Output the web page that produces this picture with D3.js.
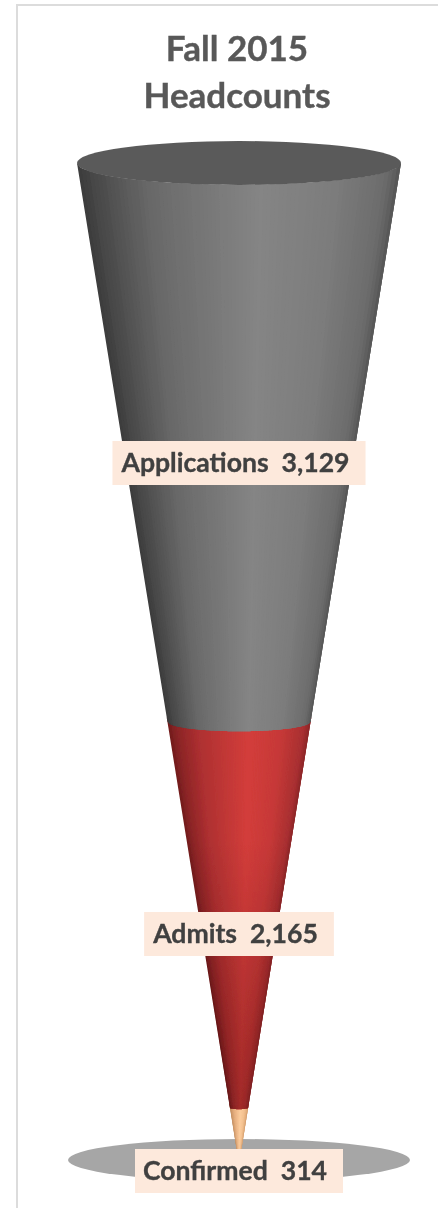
<!DOCTYPE html>
<html>
<head>
<meta charset="utf-8">
<script src="https://cdn.jsdelivr.net/npm/d3@7/dist/d3.min.js"></script>
<style>
html,body{margin:0;padding:0;background:#fff;overflow:hidden}
svg{display:block}
text{font-family:Lato,"Open Sans",sans-serif;font-weight:700;white-space:pre}
</style>
</head>
<body>
<svg id="c" width="438" height="1208"></svg>
<script>
const titleLines = ["Fall 2015", "Headcounts"];
const categories = ["Confirmed", "Admits", "Applications"];
const values = [314, 2165, 3129];
const valueLabels = ["314", "2,165", "3,129"];
const rampStops = [-1, -0.88, -0.57, -0.25, 0.135, 0.59, 0.91, 1];
const grayRamp = ["#3a3a3a", "#4a4a4a", "#686868", "#767676", "#858585", "#7c7c7c", "#6c6c6c", "#555555"];
const redRamp = ["#701c1c", "#8a2426", "#ae3031", "#bf3736", "#d33d3b", "#c63938", "#a82f30", "#8a2628"];
const tanRamp = ["#b98556", "#cc9566", "#e3ac7c", "#efba8a", "#fbcb9b", "#f3c08e", "#e0aa78", "#c98f5e"];
const ramps = [tanRamp, redRamp, grayRamp];
const labelCentres = [1171, 934, 463];

const W = 438, H = 1208, cx = 239;
const total = d3.sum(values);
const y = d3.scaleLinear().domain([0, total]).range([1164, 163]);
const r = d3.scaleLinear().domain([0, total]).range([0, 162]);
const tilt = 22 / 162;

const svg = d3.select("#c");
const defs = svg.append("defs");
defs.append("filter").attr("id", "soft").append("feGaussianBlur").attr("stdDeviation", 0.6);
defs.append("filter").attr("id", "softer").attr("x", "-5%").attr("width", "110%")
  .append("feGaussianBlur").attr("stdDeviation", 0.4);
const stack = d3.cumsum(values);
const shade = defs.append("linearGradient").attr("id", "redShade").attr("gradientUnits", "userSpaceOnUse")
  .attr("x1", 0).attr("x2", 0).attr("y1", y(stack[1])).attr("y2", y(stack[0]));
shade.append("stop").attr("offset", 0.3).attr("stop-color", "#300000").attr("stop-opacity", 0);
shade.append("stop").attr("offset", 1).attr("stop-color", "#300000").attr("stop-opacity", 0.3);

svg.append("path").attr("d", `M17,${H}V5H${W}`).attr("fill", "none")
  .attr("stroke", "#dcdcdc").attr("stroke-width", 2);

// floor shadow
svg.append("ellipse").attr("cx", cx).attr("cy", 1160).attr("rx", 171).attr("ry", 21)
  .attr("fill", "#a6a6a6").attr("filter", "url(#soft)");

// cone segments: each strip overlaps the next ones so no seams show
const cone = svg.append("g").attr("filter", "url(#soft)");
const U = d3.range(-1, 1.0001, 1 / 40);
const front = (u, v) => {
  const R = r(v);
  return [cx + R * u, y(v) + R * tilt * Math.sqrt(Math.max(0, 1 - u * u))];
};
const arc = (a, b, v) => U.filter(u => u >= a - 1e-9 && u <= b + 1e-9).map(u => front(u, v));
const line = d3.line();
categories.forEach((c, i) => {
  const lo = i ? stack[i - 1] : 0;
  const hi = stack[i] + (i < categories.length - 1 ? total * 0.004 : 0);
  const colour = d3.scaleLinear().domain(rampStops).range(ramps[i]);
  cone.append("g").selectAll("path").data(U.slice(0, -1)).join("path")
    .attr("d", (u, k) => {
      const end = U[Math.min(k + 3, U.length - 1)];
      return line([...arc(u, end, hi), ...arc(u, end, lo).reverse()]) + "Z";
    })
    .attr("fill", u => colour(u + 1 / 80));
  if (i === 1) {
    cone.append("path")
      .attr("d", line([...arc(-1, 1, hi), ...arc(-1, 1, lo).reverse()]) + "Z")
      .attr("fill", "url(#redShade)");
  }
});
cone.append("ellipse").attr("cx", cx).attr("cy", y(total)).attr("rx", r(total))
  .attr("ry", r(total) * tilt).attr("fill", "#5a5a5a");

// labels
categories.forEach((c, i) => {
  const cy = labelCentres[i];
  const g = svg.append("g");
  const rect = g.append("rect").attr("fill", "#fde9dc");
  const t = g.append("text").attr("x", cx).attr("y", cy + 9).attr("text-anchor", "middle")
    .attr("font-size", 26.6).attr("fill", "#404040").attr("stroke", "#404040").attr("stroke-width", 0.35)
    .attr("filter", "url(#softer)").text(`${c}  ${valueLabels[i]}`);
  const b = t.node().getBBox();
  rect.attr("x", b.x - 8).attr("y", cy - 22).attr("width", b.width + 24).attr("height", 44);
  g.attr("transform", `translate(${cx - (b.x + b.width / 2) - 4},0)`);
});

// title
svg.append("g").attr("fill", "#595959").attr("stroke", "#595959").attr("stroke-width", 0.4)
  .selectAll("text").data(titleLines).join("text")
  .attr("x", 237).attr("y", (d, i) => 61 + i * 46.5).attr("text-anchor", "middle")
  .attr("font-size", 35).attr("filter", "url(#softer)").text(d => d);
</script>
</body>
</html>
